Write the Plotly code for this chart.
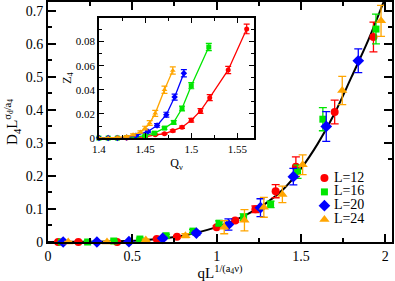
import plotly.graph_objects as go

# ---------------- main panel data ----------------
red_x = [0.06, 0.18, 0.41, 0.645, 0.765, 1.0, 1.11, 1.23, 1.35, 1.47, 1.70, 1.93]
red_y = [0.0, 0.0, 0.0, 0.009, 0.016, 0.045, 0.065, 0.099, 0.154, 0.228, 0.394, 0.621]
red_e = [0.002, 0.002, 0.002, 0.003, 0.003, 0.004, 0.005, 0.01, 0.02, 0.03, 0.036, 0.045]

green_x = [0.08, 0.235, 0.39, 0.545, 0.70, 0.86, 1.015, 1.16, 1.32, 1.48, 1.63, 1.945]
green_y = [0.0, 0.0, 0.003, 0.009, 0.019, 0.033, 0.057, 0.075, 0.114, 0.213, 0.372, 0.645]
green_e = [0.002, 0.002, 0.002, 0.003, 0.004, 0.005, 0.007, 0.01, 0.01, 0.02, 0.035, 0.045]

blue_x = [0.09, 0.29, 0.48, 0.68, 0.88, 1.07, 1.26, 1.455, 1.65, 1.84]
blue_y = [0.0, 0.0, 0.001, 0.011, 0.027, 0.053, 0.104, 0.198, 0.35, 0.549]
blue_e = [0.002, 0.002, 0.002, 0.004, 0.006, 0.017, 0.027, 0.025, 0.045, 0.036]

orange_x = [0.12, 0.35, 0.58, 0.815, 1.045, 1.165, 1.28, 1.39, 1.51, 1.745, 1.975]
orange_y = [0.0, 0.0, 0.006, 0.019, 0.045, 0.066, 0.105, 0.144, 0.234, 0.459, 0.67]
orange_e = [0.002, 0.002, 0.003, 0.006, 0.02, 0.032, 0.03, 0.025, 0.03, 0.043, 0.047]

fit_x = [0.0, 0.2, 0.4, 0.6, 0.8, 1.0, 1.1, 1.2, 1.3, 1.4, 1.5, 1.6, 1.7, 1.8, 1.9, 1.99]
fit_y = [0.0, 0.0005, 0.002, 0.007, 0.019, 0.045, 0.064, 0.089, 0.12, 0.162, 0.222, 0.298, 0.39, 0.5, 0.612, 0.727]

# ---------------- inset data ----------------
in_red_q = [1.40, 1.41, 1.42, 1.43, 1.44, 1.45, 1.461, 1.471, 1.48, 1.49, 1.50, 1.51, 1.52, 1.54, 1.56]
in_red_z = [0.0, 0.0, 0.0, 0.0, 0.0005, 0.001, 0.0027, 0.0036, 0.006, 0.009, 0.0148, 0.0225, 0.0335, 0.0565, 0.0905]
in_red_e = [0.0003, 0.0003, 0.0003, 0.0003, 0.0003, 0.0004, 0.0005, 0.0006, 0.0008, 0.001, 0.0015, 0.002, 0.0025, 0.003, 0.004]

in_green_q = [1.40, 1.41, 1.42, 1.43, 1.44, 1.45, 1.46, 1.471, 1.481, 1.49, 1.50, 1.519]
in_green_z = [0.0, 0.0, 0.0, 0.0005, 0.001, 0.002, 0.0041, 0.0083, 0.013, 0.0245, 0.0434, 0.0755]
in_green_e = [0.0003, 0.0003, 0.0003, 0.0003, 0.0004, 0.0005, 0.0008, 0.001, 0.0015, 0.002, 0.0025, 0.003]

in_blue_q = [1.40, 1.41, 1.42, 1.43, 1.44, 1.453, 1.463, 1.473, 1.482, 1.492]
in_blue_z = [0.0, 0.0, 0.0, 0.0005, 0.002, 0.0055, 0.0105, 0.0194, 0.034, 0.0538]
in_blue_e = [0.0003, 0.0003, 0.0003, 0.0004, 0.0006, 0.001, 0.0015, 0.002, 0.0025, 0.003]

in_orange_q = [1.40, 1.41, 1.42, 1.43, 1.437, 1.445, 1.45, 1.455, 1.461, 1.471, 1.48]
in_orange_z = [0.0, 0.0, 0.0005, 0.0013, 0.0027, 0.005, 0.0083, 0.0125, 0.0205, 0.040, 0.056]
in_orange_e = [0.0003, 0.0003, 0.0004, 0.0005, 0.0008, 0.001, 0.0015, 0.002, 0.0025, 0.003, 0.003]

labels = ["L=12", "L=16", "L=20", "L=24"]
colors = ["#ff0000", "#00e600", "#0000ff", "#ffa500"]
symbols = ["circle", "square", "diamond", "triangle-up"]
sizes = [8, 7, 9, 9]

SERIF = "Liberation Serif, Times New Roman, serif"

fig = go.Figure()

main_sets = [(red_x, red_y, red_e), (green_x, green_y, green_e),
             (blue_x, blue_y, blue_e), (orange_x, orange_y, orange_e)]
inset_sets = [(in_red_q, in_red_z, in_red_e), (in_green_q, in_green_z, in_green_e),
              (in_blue_q, in_blue_z, in_blue_e), (in_orange_q, in_orange_z, in_orange_e)]

fig.add_trace(go.Scatter(x=fit_x, y=fit_y, mode="lines", line=dict(color="black", width=2, shape="spline"),
                         showlegend=False, hoverinfo="skip", xaxis="x", yaxis="y"))

for (xs, ys, es), lab, c, s, sz in zip(main_sets, labels, colors, symbols, sizes):
    fig.add_trace(go.Scatter(
        x=xs, y=ys, mode="markers", name=lab, showlegend=False,
        marker=dict(color=c, symbol=s, size=sz, line=dict(width=0)),
        error_y=dict(type="data", array=es, color=c, thickness=1.3, width=4),
        cliponaxis=False, xaxis="x", yaxis="y"))

for (xs, ys, es), c, s in zip(inset_sets, colors, symbols):
    fig.add_trace(go.Scatter(
        x=xs, y=ys, mode="lines+markers", showlegend=False,
        line=dict(color=c, width=1.3),
        marker=dict(color=c, symbol=s, size=5, line=dict(width=0)),
        error_y=dict(type="data", array=es, color=c, thickness=1.2, width=3),
        cliponaxis=False, xaxis="x2", yaxis="y2"))

# legend drawn on a hidden helper axis (compact row spacing like the reference)
legend_rows = [0, 1, 2, 3]
for row, lab, c, s, sz in zip(legend_rows, labels, colors, symbols, sizes):
    fig.add_trace(go.Scatter(
        x=[0], y=[row], mode="markers",
        marker=dict(color=c, symbol=s, size=sz, line=dict(width=0)),
        showlegend=False, hoverinfo="skip", cliponaxis=False, xaxis="x3", yaxis="y3"))
    fig.add_trace(go.Scatter(
        x=[0.14], y=[row], mode="text", text=[lab], textposition="middle right",
        textfont=dict(family=SERIF, size=14, color="black"),
        showlegend=False, hoverinfo="skip", cliponaxis=False, xaxis="x3", yaxis="y3"))

axis_common = dict(showline=True, linecolor="black", mirror="allticks", ticks="inside",
                   showgrid=False, zeroline=False, tickcolor="black", automargin=False)
hidden = dict(visible=False, showgrid=False, zeroline=False, fixedrange=True)

fig.update_layout(
    width=395, height=281,
    margin=dict(l=48, r=3, t=2, b=39),
    paper_bgcolor="white", plot_bgcolor="white",
    font=dict(family=SERIF, color="black", size=13),
    showlegend=False,
    xaxis=dict(domain=[0, 1], range=[0, 2.04], dtick=0.5, linewidth=2, tickwidth=1.5, ticklen=8,
               minor=dict(dtick=0.25, ticks="inside", ticklen=4, tickcolor="black", tickwidth=1.5),
               tickfont=dict(size=14),
               title=dict(text="qL<sup>1/(a<sub>4</sub>ν)</sup>", font=dict(size=15), standoff=7),
               **axis_common),
    yaxis=dict(domain=[0, 1], range=[0, 0.727], dtick=0.1, linewidth=2, tickwidth=1.5, ticklen=8,
               minor=dict(dtick=0.05, ticks="inside", ticklen=4, tickcolor="black", tickwidth=1.5),
               tickfont=dict(size=14),
               title=dict(text="D<sub>4</sub>L<sup>σ<sub>d</sub>/a<sub>4</sub></sup>", font=dict(size=15), standoff=4),
               **axis_common),
    xaxis2=dict(domain=[0.148, 0.599], anchor="y2", range=[1.4, 1.568], dtick=0.05, linewidth=1.5,
                tickwidth=1.2, ticklen=5,
                minor=dict(dtick=0.025, ticks="inside", ticklen=3, tickcolor="black", tickwidth=1.2),
                tickfont=dict(size=11),
                title=dict(text="Q<sub>ν</sub>", font=dict(size=12), standoff=5),
                **axis_common),
    yaxis2=dict(domain=[0.433, 0.933], anchor="x2", range=[0, 0.0995], dtick=0.02, linewidth=1.5,
                tickwidth=1.2, ticklen=5,
                minor=dict(dtick=0.01, ticks="inside", ticklen=3, tickcolor="black", tickwidth=1.2),
                tickfont=dict(size=11),
                title=dict(text="Z<sub>4</sub>", font=dict(size=12), standoff=2),
                **axis_common),
    xaxis3=dict(domain=[0.78, 1.0], anchor="y3", range=[-0.12, 1], **hidden),
    yaxis3=dict(domain=[0.065, 0.295], anchor="x3", range=[3.5, -0.5], **hidden),
    shapes=[dict(type="rect", xref="paper", yref="paper", x0=0.148, x1=0.599, y0=0.433, y1=0.933,
                 fillcolor="white", line=dict(width=0), layer="below")],
)

fig.write_html("out.html", config={"displayModeBar": False},
               post_script="document.body.style.margin='0';document.body.style.padding='0';")
